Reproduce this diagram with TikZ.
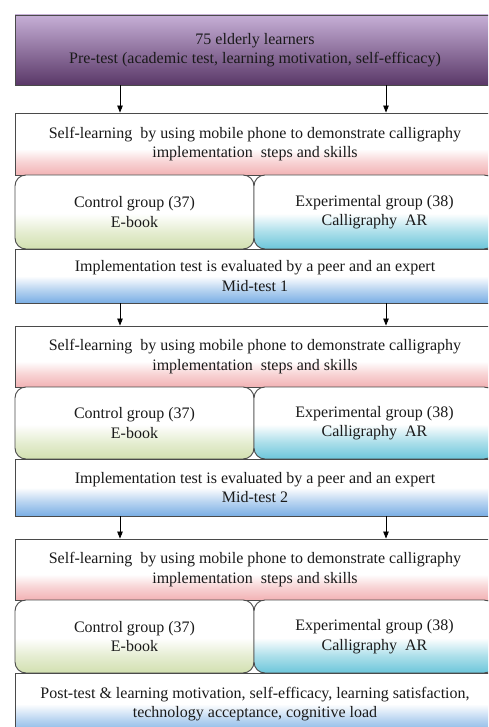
\documentclass[tikz,border=0pt]{standalone}
\usepackage{fontspec}
\setmainfont{Liberation Serif}
\usetikzlibrary{arrows.meta}
\definecolor{pinkc}{HTML}{F2B2B4}
\definecolor{greenc}{HTML}{D2E0B0}
\definecolor{cyanc}{HTML}{6CC6DA}
\definecolor{bluec}{HTML}{7AAEE4}
\definecolor{purtop}{HTML}{C6AFD6}
\definecolor{purmid}{HTML}{9C7DB0}
\definecolor{purbot}{HTML}{5A3868}
\definecolor{edgec}{HTML}{4A4A4A}
\definecolor{txtc}{HTML}{1A1A1A}
\pgfdeclareverticalshading{pinkfade}{100bp}{color(0bp)=(pinkc); color(25bp)=(pinkc); color(36bp)=(pinkc!55!white); color(46bp)=(white); color(100bp)=(white)}
\pgfdeclareverticalshading{greenfade}{100bp}{color(0bp)=(greenc); color(25bp)=(greenc); color(36bp)=(greenc!60!white); color(49bp)=(white); color(100bp)=(white)}
\pgfdeclareverticalshading{cyanfade}{100bp}{color(0bp)=(cyanc); color(25bp)=(cyanc); color(37bp)=(cyanc!55!white); color(49bp)=(white); color(100bp)=(white)}
\pgfdeclareverticalshading{bluefade}{100bp}{color(0bp)=(bluec); color(25bp)=(bluec); color(37bp)=(bluec!55!white); color(50bp)=(white); color(100bp)=(white)}
\tikzset{
  base/.style={draw=edgec, line width=0.9pt, text=txtc, align=center, inner sep=0pt,
    font=\fontsize{16}{19.5}\selectfont},
  wide/.style={base, minimum width=480pt},
  topbox/.style={wide, top color=purtop, middle color=purmid, bottom color=purbot},
  slbox/.style={wide, shading=pinkfade},
  implbox/.style={wide, shading=bluefade},
  ctrlbox/.style={base, minimum width=239pt, rounded corners=11pt, shading=greenfade},
  expbox/.style={base, minimum width=241pt, rounded corners=11pt, shading=cyanfade},
  arr/.style={draw=black, line width=0.8pt, -{Triangle[length=7pt,width=5.5pt]}}
}
\begin{document}
\begin{tikzpicture}[x=1pt,y=-1pt]
\useasboundingbox (0,0) rectangle (488,727);
\clip (0,0) rectangle (488,727);
\fill[white] (0,0) rectangle (488,727);
\coordinate (ax1) at (120,0);
\coordinate (ax2) at (386,0);
% top
\node[topbox, minimum height=70pt] (top) at (255,50) {75 elderly learners\\Pre-test (academic test, learning motivation, self-efficacy)};
% block 1
\node[slbox, minimum height=62pt] (sl1) at (255,144) {Self-learning\ \ by using mobile phone to demonstrate calligraphy\\implementation\ \ steps and skills};
\node[ctrlbox, minimum height=74pt] (c1) at (134.5,212) {Control group (37)\\E-book};
\node[expbox, minimum height=74pt] (e1) at (374.5,212) {Experimental group (38)\\Calligraphy\ \ AR};
\node[implbox, minimum height=54pt] (im1) at (255,276) {Implementation test is evaluated by a peer and an expert\\Mid-test 1};
% block 2
\node[slbox, minimum height=61pt] (sl2) at (255,356.5) {Self-learning\ \ by using mobile phone to demonstrate calligraphy\\implementation\ \ steps and skills};
\node[ctrlbox, minimum height=72pt] (c2) at (134.5,423) {Control group (37)\\E-book};
\node[expbox, minimum height=72pt] (e2) at (374.5,423) {Experimental group (38)\\Calligraphy\ \ AR};
\node[implbox, minimum height=57pt] (im2) at (255,487.5) {Implementation test is evaluated by a peer and an expert\\Mid-test 2};
% block 3
\node[slbox, minimum height=61pt] (sl3) at (255,569.5) {Self-learning\ \ by using mobile phone to demonstrate calligraphy\\implementation\ \ steps and skills};
\node[ctrlbox, minimum height=73pt] (c3) at (134.5,636.5) {Control group (37)\\E-book};
\node[expbox, minimum height=73pt] (e3) at (374.5,636.5) {Experimental group (38)\\Calligraphy\ \ AR};
\node[implbox, minimum height=62pt] (post) at (255,704) {Post-test \& learning motivation, self-efficacy, learning satisfaction,\\technology acceptance, cognitive load};
% arrows
\draw[arr] (top.south -| ax1) -- (sl1.north -| ax1);
\draw[arr] (top.south -| ax2) -- (sl1.north -| ax2);
\draw[arr] (im1.south -| ax1) -- (sl2.north -| ax1);
\draw[arr] (im1.south -| ax2) -- (sl2.north -| ax2);
\draw[arr] (im2.south -| ax1) -- (sl3.north -| ax1);
\draw[arr] (im2.south -| ax2) -- (sl3.north -| ax2);
\end{tikzpicture}
\end{document}
